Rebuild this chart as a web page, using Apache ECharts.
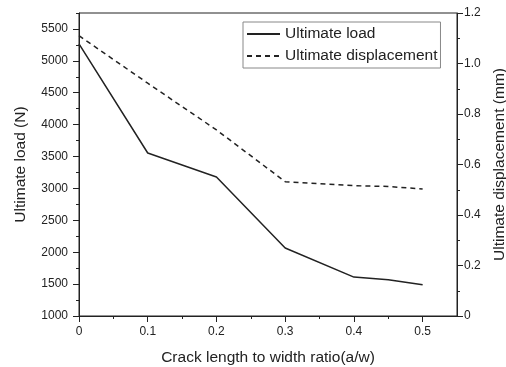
<!DOCTYPE html>
<html>
<head>
<meta charset="utf-8">
<script src="https://cdn.jsdelivr.net/npm/echarts@6/dist/echarts.min.js"></script>
<style>
  html, body { margin: 0; padding: 0; background: #fff; }
  #chart { width: 506px; height: 367px; }
</style>
</head>
<body>
<div id="chart"></div>
<script>
// crack ratio a/w
const ratios = [0, 0.1, 0.2, 0.3, 0.4, 0.45, 0.5]
// ultimate load (N)
const loadValues = [5265, 3555, 3180, 2065, 1610, 1570, 1490]
// ultimate displacement (mm)
const dispValues = [1.11, 0.922, 0.737, 0.532, 0.516, 0.513, 0.503]

const xMajorTicks = [0, 0.1, 0.2, 0.3, 0.4, 0.5]
const xMinorTicks = [0.05, 0.15, 0.25, 0.35, 0.45]
const loadMajorTicks = [1000, 1500, 2000, 2500, 3000, 3500, 4000, 4500, 5000, 5500]
const loadMinorTicks = [1250, 1750, 2250, 2750, 3250, 3750, 4250, 4750, 5250, 5750]

const ink = '#222'
const font = 'Arial, "Liberation Sans", sans-serif'

const chart = echarts.init(document.getElementById('chart'))

const baseLine = { show: true, onZero: false, lineStyle: { color: ink, width: 1 } }

const option = {
  backgroundColor: '#fff',
  animation: false,
  textStyle: { fontFamily: font, color: ink },
  grid: {
    left: 79, right: 49, top: 13, bottom: 51,
    outerBoundsMode: 'none',
    containLabel: false,
    show: true, borderColor: ink, borderWidth: 1, backgroundColor: 'transparent'
  },
  legend: {
    left: 243, top: 22,
    orient: 'vertical',
    itemWidth: 33, itemHeight: 14, itemGap: 6,
    padding: [4, 3, 4, 3],
    borderColor: '#888', borderWidth: 1,
    itemStyle: { color: 'transparent', borderWidth: 0 },
    textStyle: { fontSize: 15.5, color: ink, fontFamily: font },
    data: ['Ultimate load', 'Ultimate displacement']
  },
  xAxis: [
    {
      type: 'value', min: 0, max: 0.55, interval: 0.1,
      name: 'Crack length to width ratio(a/w)',
      nameLocation: 'middle', nameGap: 34,
      nameTextStyle: { fontSize: 15.5, color: ink, fontFamily: font },
      axisLine: baseLine,
      axisTick: { show: true, inside: false, length: 6, customValues: xMajorTicks, lineStyle: { color: ink } },
      axisLabel: { fontSize: 12, color: ink, margin: 10, customValues: xMajorTicks },
      splitLine: { show: false }
    },
    {
      type: 'value', min: 0, max: 0.55, position: 'bottom',
      axisLine: { show: false, onZero: false },
      axisTick: { show: true, inside: false, length: 3, customValues: xMinorTicks, lineStyle: { color: ink } },
      axisLabel: { show: false },
      splitLine: { show: false }
    }
  ],
  yAxis: [
    {
      type: 'value', min: 1000, max: 5750, interval: 500, position: 'left',
      name: 'Ultimate load (N)',
      nameLocation: 'middle', nameGap: 50,
      nameTextStyle: { fontSize: 15.5, color: ink, fontFamily: font },
      axisLine: baseLine,
      axisTick: { show: true, inside: false, length: 6, customValues: loadMajorTicks, lineStyle: { color: ink } },
      axisLabel: {
        fontSize: 12, color: ink, margin: 11, customValues: loadMajorTicks,
        formatter: v => String(v)
      },
      splitLine: { show: false }
    },
    {
      type: 'value', min: 0, max: 1.2, interval: 0.2, position: 'right',
      name: 'Ultimate displacement (mm)',
      nameLocation: 'middle', nameGap: 32,
      nameTextStyle: { fontSize: 15.5, color: ink, fontFamily: font },
      axisLine: baseLine,
      axisTick: { show: true, inside: false, length: 6, lineStyle: { color: ink } },
      minorTick: { show: true, splitNumber: 2, length: 3, lineStyle: { color: ink } },
      axisLabel: {
        fontSize: 12, color: ink, margin: 7,
        formatter: v => (v === 0 ? '0' : v.toFixed(1))
      },
      splitLine: { show: false },
      minorSplitLine: { show: false }
    },
    {
      type: 'value', min: 1000, max: 5750, position: 'left',
      axisLine: { show: false, onZero: false },
      axisTick: { show: true, inside: false, length: 3, customValues: loadMinorTicks, lineStyle: { color: ink } },
      axisLabel: { show: false },
      splitLine: { show: false }
    }
  ],
  series: [
    {
      name: 'Ultimate load',
      type: 'line',
      xAxisIndex: 0, yAxisIndex: 0,
      symbol: 'none',
      lineStyle: { color: ink, width: 1.5, type: 'solid' },
      itemStyle: { color: ink },
      data: ratios.map((r, i) => [r, loadValues[i]])
    },
    {
      name: 'Ultimate displacement',
      type: 'line',
      xAxisIndex: 0, yAxisIndex: 1,
      symbol: 'none',
      lineStyle: { color: ink, width: 1.5, type: [5, 4] },
      itemStyle: { color: ink },
      data: ratios.map((r, i) => [r, dispValues[i]])
    }
  ]
}

chart.setOption(option)
</script>
</body>
</html>
